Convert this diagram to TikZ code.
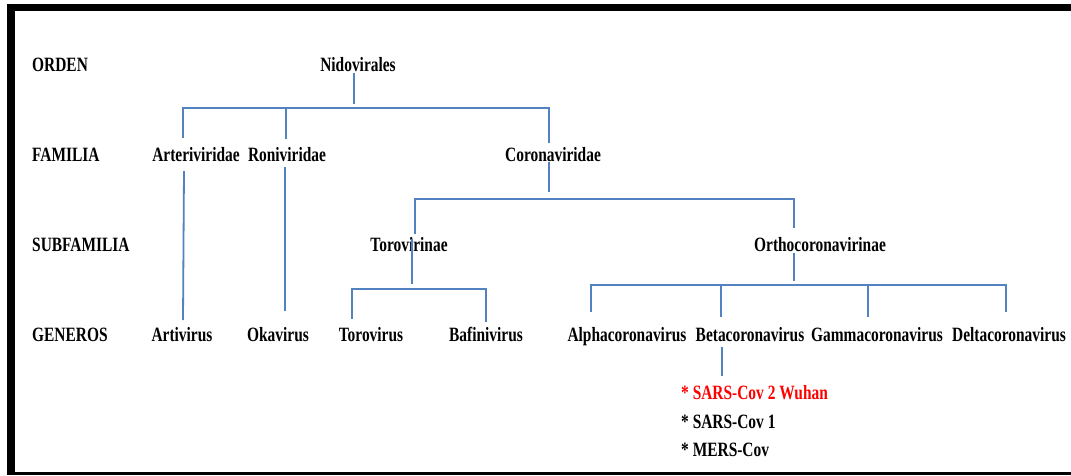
\documentclass[tikz,border=0pt]{standalone}
\usepackage{fontspec}
\setmainfont{Liberation Serif}[FakeStretch=0.76]
\definecolor{lineblue}{HTML}{5283C0}
\definecolor{wuhanred}{HTML}{FF0000}
\begin{document}
\begin{tikzpicture}[x=1pt,y=-1pt,
  lbl/.style={inner sep=0pt,anchor=base,font=\bfseries\fontsize{20.3}{21}\selectfont},
  rowlbl/.style={lbl,anchor=base west},
  link/.style={draw=lineblue,line width=1.8pt}]
\useasboundingbox (0,0) rectangle (1071,475);
\fill[white] (0,0) rectangle (1071,475);
\fill[black] (7,3.5) rectangle (1071,11);
\fill[black] (7,3.5) rectangle (15,475);
\fill[black] (7,471.5) rectangle (1071,475);
% row labels
\node[rowlbl] (orden) at (32,71) {ORDEN};
\node[rowlbl] (familia) at (32,161) {FAMILIA};
\node[rowlbl] (subfamilia) at (32,251) {SUBFAMILIA};
\node[rowlbl] (generos) at (32,341) {GENEROS};
% taxa
\node[lbl] (nido) at (358,71) {Nidovirales};
\node[lbl] (arteri) at (196,161) {Arteriviridae};
\node[lbl] (roni) at (287,161) {Roniviridae};
\node[lbl] (corona) at (553,161) {Coronaviridae};
\node[lbl] (toro) at (409,251) {Torovirinae};
\node[lbl] (ortho) at (820,251) {Orthocoronavirinae};
\node[lbl] (arti) at (182,341) {Artivirus};
\node[lbl] (oka) at (278,341) {Okavirus};
\node[lbl] (torov) at (371,341) {Torovirus};
\node[lbl] (bafini) at (486,341) {Bafinivirus};
\node[lbl] (alpha) at (627,341) {Alphacoronavirus};
\node[lbl] (beta) at (750,341) {Betacoronavirus};
\node[lbl] (gamma) at (877,341) {Gammacoronavirus};
\node[lbl] (delta) at (1009,341) {Deltacoronavirus};
\node[rowlbl,text=wuhanred] (sars2) at (681,399) {* SARS-Cov 2 Wuhan};
\node[rowlbl] (sars1) at (681,428) {* SARS-Cov 1};
\node[rowlbl] (mers) at (681,456) {* MERS-Cov};
% junction coordinates
\coordinate (nidoT) at (354,73);
\coordinate (nidoB) at (354,104);
\coordinate (famL) at (183,108);
\coordinate (famM) at (286,108);
\coordinate (famR) at (549,108);
\coordinate (arteriT) at (183,138);
\coordinate (roniT) at (286,139);
\coordinate (coronaT) at (549,143);
\coordinate (arteriB) at (184,171);
\coordinate (artiT) at (183,320);
\coordinate (roniB) at (285,167);
\coordinate (okaT) at (285,311);
\coordinate (coronaB) at (549,162);
\coordinate (coronaBB) at (549,192);
\coordinate (subL) at (415,199);
\coordinate (subR) at (794,199);
\coordinate (toroT) at (415,234);
\coordinate (orthoT) at (794,228);
\coordinate (toroB) at (412,239);
\coordinate (toroBB) at (412,284);
\coordinate (orthoB) at (794,253);
\coordinate (orthoBB) at (794,281);
\coordinate (tbL) at (352,289);
\coordinate (tbR) at (486,289);
\coordinate (torovT) at (352,319);
\coordinate (bafiniT) at (486,322);
\coordinate (obL) at (591,285);
\coordinate (obB) at (721,285);
\coordinate (obG) at (868,285);
\coordinate (obR) at (1006,285);
\coordinate (alphaT) at (591,312);
\coordinate (betaT) at (721,317);
\coordinate (gammaT) at (868,317);
\coordinate (deltaT) at (1006,312);
\coordinate (betaB) at (722,347);
\coordinate (betaBB) at (722,376);
% connectors
\draw[link] (nidoT) -- (nidoB);
\draw[link] (arteriT) -- (famL) -- (famR) -- (coronaT);
\draw[link] (famM) -- (roniT);
\draw[link] (arteriB) -- (artiT);
\draw[link] (roniB) -- (okaT);
\draw[link] (coronaB) -- (coronaBB);
\draw[link] (toroT) -- (subL) -- (subR) -- (orthoT);
\draw[link] (toroB) -- (toroBB);
\draw[link] (orthoB) -- (orthoBB);
\draw[link] (torovT) -- (tbL) -- (tbR) -- (bafiniT);
\draw[link] (alphaT) -- (obL) -- (obR) -- (deltaT);
\draw[link] (obB) -- (betaT);
\draw[link] (obG) -- (gammaT);
\draw[link] (betaB) -- (betaBB);
\end{tikzpicture}
\end{document}
